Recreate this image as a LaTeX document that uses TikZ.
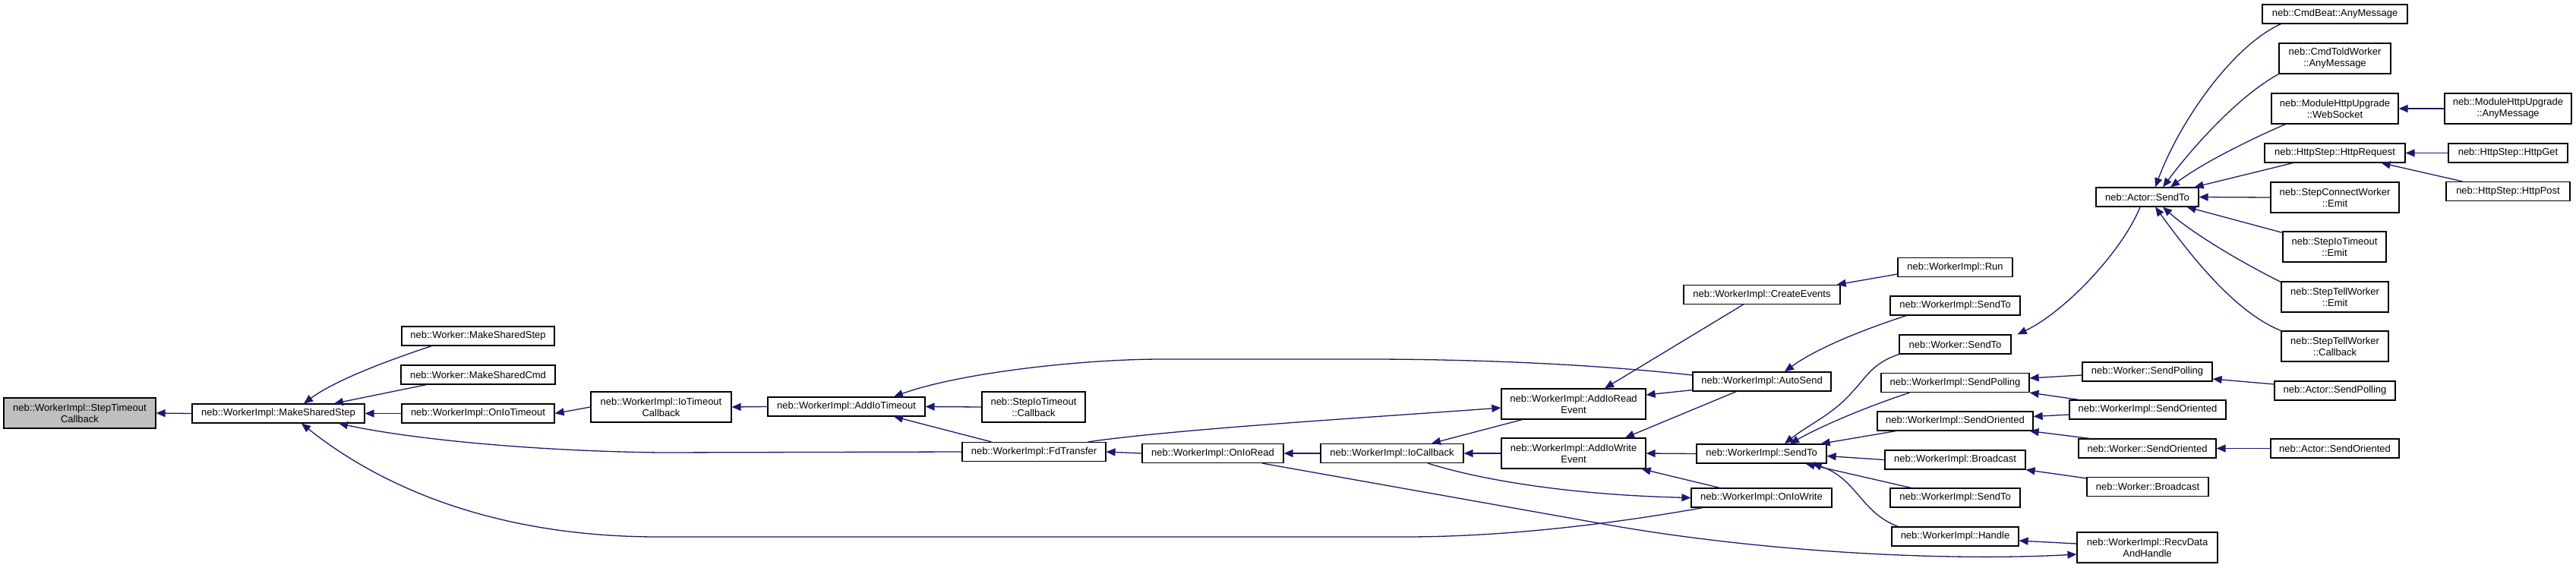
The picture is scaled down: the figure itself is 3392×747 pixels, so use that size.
\documentclass[tikz,border=0pt]{standalone}
\usepackage{fontspec}
\setmainfont{Liberation Sans}
\usetikzlibrary{arrows.meta}
\definecolor{edgecol}{HTML}{191970}
\definecolor{graybox}{HTML}{BFBFBF}
\newcommand\mynode[7][]{\node[box,#1,minimum width=#5pt,minimum height=#6pt] (#2) at (#3,#4) {#7};}
\begin{document}
\begin{tikzpicture}[x=1pt,y=-1pt,
  box/.style={draw=black,line width=1.2pt,fill=white,inner sep=0pt,align=center,font=\fontsize{13}{15}\selectfont},
  conn/.style={draw=edgecol,line width=1.3pt,-{Triangle[length=12pt,width=10pt]}}]
\useasboundingbox (0,0) rectangle (3392,747);
% nodes
\mynode[fill=graybox]{stc}{105}{544}{200}{40}{neb::WorkerImpl::StepTimeout\\Callback}
\mynode{mss}{366.5}{544.5}{227}{25}{neb::WorkerImpl::MakeSharedStep}
\mynode{wmss}{629.5}{442.5}{201}{25}{neb::Worker::MakeSharedStep}
\mynode{wmsc}{629.5}{493.5}{203}{25}{neb::Worker::MakeSharedCmd}
\mynode{oit}{629.5}{544.5}{201}{25}{neb::WorkerImpl::OnIoTimeout}
\mynode{itc}{870.5}{536}{185}{40}{neb::WorkerImpl::IoTimeout\\Callback}
\mynode{ait}{1114.5}{535.5}{207}{25}{neb::WorkerImpl::AddIoTimeout}
\mynode{sitc}{1361}{536}{136}{40}{neb::StepIoTimeout\\::Callback}
\mynode{fdt}{1361.5}{595}{189}{25}{neb::WorkerImpl::FdTransfer}
\mynode{oir}{1597}{597}{186}{25}{neb::WorkerImpl::OnIoRead}
\mynode{ioc}{1833}{597}{188}{25}{neb::WorkerImpl::IoCallback}
\mynode{aire}{2072}{532}{190}{40}{neb::WorkerImpl::AddIoRead\\Event}
\mynode{aiwe}{2072}{597}{190}{40}{neb::WorkerImpl::AddIoWrite\\Event}
\mynode{ce}{2320}{388}{206}{25}{neb::WorkerImpl::CreateEvents}
\mynode{run}{2574.5}{352}{151}{25}{neb::WorkerImpl::Run}
\mynode{as}{2320}{502.5}{182}{25}{neb::WorkerImpl::AutoSend}
\mynode{wistA}{2574.5}{402.5}{171}{25}{neb::WorkerImpl::SendTo}
\mynode{wst}{2574.5}{453.5}{147}{25}{neb::Worker::SendTo}
\mynode{wisp}{2574.5}{504}{195}{25}{neb::WorkerImpl::SendPolling}
\mynode{wiso}{2574.5}{554.5}{205}{25}{neb::WorkerImpl::SendOriented}
\mynode{wist}{2319.5}{597.5}{171}{25}{neb::WorkerImpl::SendTo}
\mynode{wib}{2574.5}{605.5}{185}{25}{neb::WorkerImpl::Broadcast}
\mynode{wistB}{2574.5}{655.5}{171}{25}{neb::WorkerImpl::SendTo}
\mynode{oiw}{2319.5}{655.5}{185}{25}{neb::WorkerImpl::OnIoWrite}
\mynode{wih}{2574.5}{706.5}{167}{25}{neb::WorkerImpl::Handle}
\mynode{asend}{2827.5}{259.5}{135}{25}{neb::Actor::SendTo}
\mynode{wsp}{2827.5}{489.5}{171}{25}{neb::Worker::SendPolling}
\mynode{wisoB}{2828}{539.5}{206}{25}{neb::WorkerImpl::SendOriented}
\mynode{wso}{2827.5}{590.5}{181}{25}{neb::Worker::SendOriented}
\mynode{wb}{2828}{641}{160}{25}{neb::Worker::Broadcast}
\mynode{rdh}{2827.5}{721}{185}{40}{neb::WorkerImpl::RecvData\\AndHandle}
\mynode{cba}{3074.5}{18.5}{191}{25}{neb::CmdBeat::AnyMessage}
\mynode{ctw}{3074.5}{77}{147}{40}{neb::CmdToldWorker\\::AnyMessage}
\mynode{mws}{3074.5}{143}{167}{40}{neb::ModuleHttpUpgrade\\::WebSocket}
\mynode{hr}{3074.5}{201.5}{185}{25}{neb::HttpStep::HttpRequest}
\mynode{sce}{3074.5}{260}{169}{40}{neb::StepConnectWorker\\::Emit}
\mynode{sie}{3074}{325}{136}{40}{neb::StepIoTimeout\\::Emit}
\mynode{ste}{3074.5}{391}{141}{40}{neb::StepTellWorker\\::Emit}
\mynode{stcb}{3074.5}{456}{141}{40}{neb::StepTellWorker\\::Callback}
\mynode{asp}{3074.5}{514.5}{159}{25}{neb::Actor::SendPolling}
\mynode{aso}{3074.5}{590.5}{169}{25}{neb::Actor::SendOriented}
\mynode{mam}{3302.5}{143}{167}{40}{neb::ModuleHttpUpgrade\\::AnyMessage}
\mynode{hg}{3302.5}{201.5}{157}{25}{neb::HttpStep::HttpGet}
\mynode{hp}{3302.5}{252}{163}{25}{neb::HttpStep::HttpPost}
% edges
\draw[conn] (mss.west) -- (stc.east);
\draw[conn] ([xshift=40pt]wmss.south west) .. controls (525,470) and (445,498) .. ([xshift=33.5pt]mss.north);
\draw[conn] ([xshift=34pt]wmsc.south west) -- ([xshift=73.5pt]mss.north);
\draw[conn] (oit.west) -- (mss.east);
\draw[conn] (fdt.west) -- (870,596) .. controls (700,594) and (540,578) .. ([xshift=79.5pt]mss.south);
\draw[conn] ([xshift=16pt]oiw.south west) .. controls (2150,685) and (2000,707) .. (1850,707) -- (867,707) .. controls (650,707) and (500,640) .. ([xshift=30.5pt]mss.south);
\draw[conn] (itc.west) -- (oit.east);
\draw[conn] (ait.west) -- (itc.east);
\draw[conn] (sitc.west) -- (ait.east);
\draw[conn] ([xshift=39pt]fdt.north west) -- ([xshift=62.5pt]ait.south);
\draw[conn] ([yshift=8.5pt]as.west) .. controls (2100,480) and (1950,473) .. (1800,473) -- (1530,473) .. controls (1420,473) and (1260,492) .. ([xshift=62.5pt]ait.north);
\draw[conn] (oir.west) -- (fdt.east);
\draw[conn] ([xshift=-24pt]fdt.north east) .. controls (1550,565) and (1800,550) .. ([yshift=-5pt]aire.west);
\draw[conn] (ioc.west) -- (oir.east);
\draw[conn] ([xshift=28pt]aire.south west) -- ([xshift=52pt]ioc.north);
\draw[conn] (aiwe.west) -- (ioc.east);
\draw[conn] ([xshift=79pt]ce.south west) -- ([xshift=41pt]aire.north);
\draw[conn] ([yshift=2pt]as.south west) -- ([yshift=12pt]aire.east);
\draw[conn] ([xshift=58pt]as.south west) -- ([xshift=68pt]aiwe.north);
\draw[conn] (wist.west) -- (aiwe.east);
\draw[conn] ([xshift=38pt]oiw.north west) -- ([xshift=-6pt]aiwe.south east);
\draw[conn] ([xshift=47pt]ioc.south) .. controls (1960,635) and (2080,652) .. (oiw.west);
\draw[conn] ([xshift=65pt]oir.south) -- (2100,688) .. controls (2300,725) and (2550,740) .. ([yshift=-9pt]rdh.west);
\draw[conn] ([xshift=22pt]wistA.south west) .. controls (2450,435) and (2390,460) .. ([xshift=30pt]as.north);
\draw[conn] ([yshift=-9pt]run.west) -- ([xshift=-5pt]ce.north east);
\draw[conn] (wst.south west) .. controls (2465,478) and (2455,500) .. (2440,515) .. controls (2415,545) and (2380,560) .. ([xshift=30.5pt]wist.north);
\draw[conn] ([xshift=38pt]wisp.south west) .. controls (2460,535) and (2400,560) .. ([xshift=37.5pt]wist.north);
\draw[conn] ([xshift=25pt]wiso.south west) -- ([xshift=-8pt]wist.north east);
\draw[conn] (wib.west) -- ([yshift=-3pt]wist.east);
\draw[conn] ([xshift=28pt]wistB.north west) -- ([xshift=-28pt]wist.south east);
\draw[conn] ([xshift=9pt]wih.north west) .. controls (2450,675) and (2445,630) .. ([xshift=-19pt]wist.south east);
\draw[conn] ([xshift=-9.5pt]asend.south) .. controls (2795,330) and (2720,410) .. ([xshift=8pt]wst.north east);
\draw[conn] ([yshift=-4.5pt]wsp.west) -- ([yshift=6pt]wisp.east);
\draw[conn] ([xshift=13pt]wisoB.north west) -- (wisp.south east);
\draw[conn] ([yshift=-6.5pt]wisoB.west) -- ([yshift=6pt]wiso.east);
\draw[conn] ([xshift=15pt]wso.north west) -- ([xshift=-5pt]wiso.south east);
\draw[conn] ([yshift=-2pt]wb.north west) -- (wib.south east);
\draw[conn] ([yshift=5pt]rdh.west) -- ([yshift=-5.5pt]wih.east);
\draw[conn] ([yshift=8.5pt]asp.west) -- ([yshift=-9.5pt]wsp.east);
\draw[conn] (aso.west) -- (wso.east);
\draw[conn] ([xshift=25pt]cba.south west) .. controls (2940,60) and (2870,160) .. ([xshift=10.5pt]asend.north);
\draw[conn] (ctw.south west) .. controls (2950,125) and (2890,190) .. ([xshift=20.5pt]asend.north);
\draw[conn] ([xshift=19pt]mws.south west) .. controls (2960,185) and (2900,215) .. ([xshift=30.5pt]asend.north);
\draw[conn] ([xshift=38pt]hr.south west) -- ([xshift=-6pt]asend.north east);
\draw[conn] (sce.west) -- (asend.east);
\draw[conn] ([yshift=-2pt]sie.north west) -- ([xshift=-16pt]asend.south east);
\draw[conn] ([yshift=-1pt]ste.north west) .. controls (2960,350) and (2890,310) .. ([xshift=20.5pt]asend.south);
\draw[conn] (stcb.north west) .. controls (2940,410) and (2880,330) .. ([xshift=10.5pt]asend.south);
\draw[conn] (mam.west) -- (mws.east);
\draw[conn] (hg.west) -- (hr.east);
\draw[conn] ([xshift=22pt]hp.north west) -- ([xshift=-32pt]hr.south east);
\end{tikzpicture}
\end{document}
